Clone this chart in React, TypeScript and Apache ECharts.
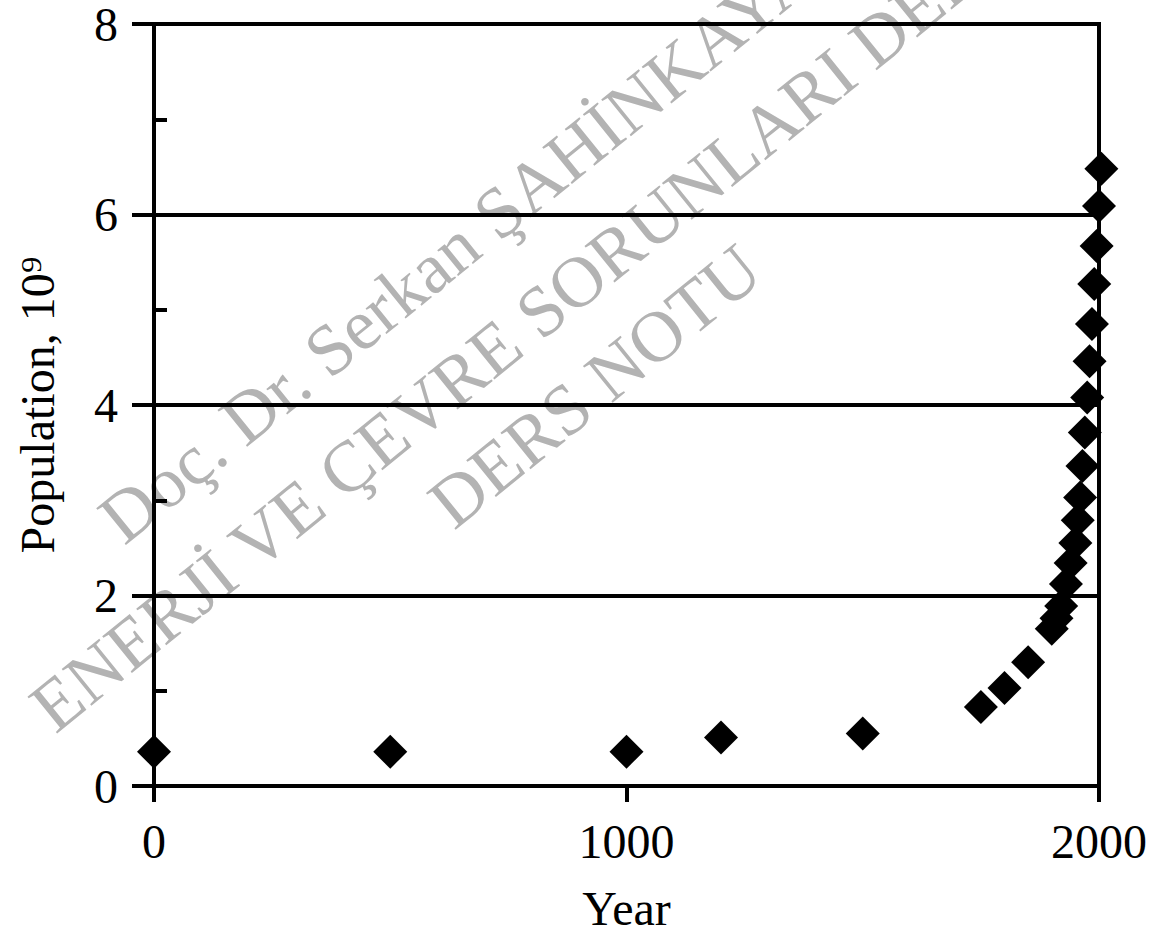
import React, { useEffect, useRef } from "react";
import * as echarts from "echarts";

const years = [0, 500, 1000, 1200, 1500, 1750, 1800, 1850, 1900, 1910, 1920, 1930, 1940, 1950, 1955, 1960, 1965, 1970, 1975, 1980, 1985, 1990, 1995, 2000, 2005];
const population = [0.36, 0.36, 0.36, 0.51, 0.55, 0.83, 1.03, 1.3, 1.65, 1.76, 1.89, 2.12, 2.34, 2.55, 2.79, 3.03, 3.36, 3.71, 4.08, 4.46, 4.85, 5.27, 5.67, 6.09, 6.48];
const xTicks = [0, 1000, 2000];
const yTicks = [0, 2, 4, 6, 8];
const watermarkLines = ["Doç. Dr. Serkan ŞAHİNKAYA", "ENERJİ VE ÇEVRE SORUNLARI DERSİ", "DERS NOTU"];

const FONT = "'Liberation Serif', 'Times New Roman', serif";

export default function App() {
  const ref = useRef<HTMLDivElement>(null);
  useEffect(() => {
    if (!ref.current) return;
    const chart = echarts.init(ref.current, undefined, { renderer: "svg" });
    const ang = (39 * Math.PI) / 180;
    const centers = [
      [457, 246],
      [531, 319],
      [595, 386],
    ];
    chart.setOption({
      animation: false,
      backgroundColor: "#fff",
      textStyle: { fontFamily: FONT },
      grid: { left: 154, top: 23, right: 56, bottom: 144, show: true, borderColor: "#000", borderWidth: 4 },
      graphic: watermarkLines.map((t, i) => ({
        type: "text",
        x: centers[i][0],
        y: centers[i][1],
        rotation: ang,
        silent: true,
        z: -10,
        style: {
          text: t,
          fill: "#b3b3b3",
          font: `72px ${FONT}`,
          align: "center",
          verticalAlign: "middle",
        },
      })),
      xAxis: {
        type: "value",
        min: xTicks[0],
        max: xTicks[xTicks.length - 1],
        interval: 1000,
        name: "Year",
        nameLocation: "middle",
        nameGap: 98,
        nameTextStyle: { color: "#000", fontSize: 48, fontFamily: FONT },
        axisLine: { show: true, lineStyle: { color: "#000", width: 4 } },
        axisTick: { show: true, inside: false, length: 16, lineStyle: { color: "#000", width: 4 } },
        axisLabel: { color: "#000", fontSize: 48, fontFamily: FONT, margin: 31, formatter: (v: number) => String(v) },
        splitLine: { show: false },
      },
      yAxis: [
        {
          type: "value",
          min: yTicks[0],
          max: yTicks[yTicks.length - 1],
          interval: 2,
          name: "Population, 10⁹",
          nameLocation: "middle",
          nameGap: 93,
          nameTextStyle: { color: "#000", fontSize: 48, fontFamily: FONT },
          axisLine: { show: true, lineStyle: { color: "#000", width: 4 } },
          axisTick: { show: true, inside: false, length: 22, lineStyle: { color: "#000", width: 4 } },
          axisLabel: { color: "#000", fontSize: 48, lineHeight: 34, fontFamily: FONT, margin: 36 },
          splitLine: { show: true, lineStyle: { color: "#000", width: 4 } },
        },
        {
          type: "value",
          min: 0,
          max: 8,
          interval: 1,
          position: "left",
          axisLine: { show: false },
          axisTick: { show: true, inside: true, length: 13, lineStyle: { color: "#000", width: 4 } },
          axisLabel: { show: false },
          splitLine: { show: false },
        },
      ],
      series: [
        {
          type: "scatter",
          symbol: "diamond",
          symbolSize: 34,
          clip: false,
          itemStyle: { color: "#000", opacity: 1 },
          data: years.map((y, i) => [y, population[i]]),
        },
      ],
    });
    return () => chart.dispose();
  }, []);
  return (
    <div
      ref={ref}
      style={{ position: "fixed", left: 0, top: 0, width: 1155, height: 937, background: "#fff" }}
    />
  );
}
